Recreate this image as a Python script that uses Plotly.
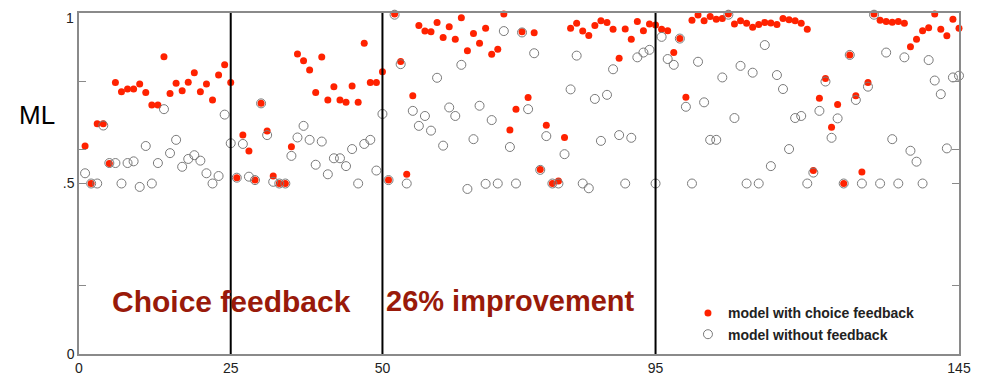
import plotly.graph_objects as go

trial = list(range(1, 146))

with_feedback = [
    0.61, 0.50, 0.675, 0.675, 0.559, 0.796, 0.769, 0.777, 0.777, 0.792,
    0.767, 0.730, 0.730, 0.872, 0.764, 0.794, 0.772, 0.797, 0.825, 0.769,
    0.792, 0.745, 0.818, 0.848, 0.796, 0.517, 0.642, 0.595, 0.51, 0.735,
    0.654, 0.522, 0.50, 0.50, 0.608, 0.88, 0.86, 0.833, 0.767, 0.871,
    0.745, 0.784, 0.745, 0.738, 0.786, 0.738, 0.911, 0.796, 0.796, 0.828,
    0.51, 0.997, 0.858, 0.527, 0.757, 0.963, 0.947, 0.945, 0.972, 0.928,
    0.96, 0.923, 0.986, 0.889, 0.94, 0.911, 0.955, 0.879, 0.894, 0.997,
    0.657, 0.718, 0.945, 0.752, 0.942, 0.541, 0.671, 0.50, 0.507, 0.635,
    0.955, 0.97, 0.947, 0.934, 0.963, 0.977, 0.972, 0.952, 0.867, 0.953,
    0.923, 0.975, 0.948, 0.968, 0.965, 0.952, 0.948, 0.884, 0.925, 0.753,
    0.979, 0.994, 0.977, 0.99, 0.982, 0.984, 0.997, 0.968, 0.977, 0.97,
    0.958, 0.966, 0.972, 0.971, 0.966, 0.984, 0.98, 0.977, 0.97, 0.952,
    0.538, 0.75, 0.808, 0.665, 0.732, 0.50, 0.877, 0.757, 0.534, 0.796,
    0.997, 0.979, 0.975, 0.973, 0.975, 0.97, 0.901, 0.923, 0.948, 0.957,
    0.997, 0.952, 0.933, 0.982, 0.955,
]

without_feedback = [
    0.53, 0.50, 0.50, 0.67, 0.56, 0.56, 0.50, 0.56, 0.565, 0.49,
    0.61, 0.50, 0.56, 0.718, 0.589, 0.628, 0.549, 0.572, 0.583, 0.567,
    0.53, 0.50, 0.522, 0.702, 0.618, 0.517, 0.616, 0.52, 0.51, 0.735,
    0.642, 0.505, 0.50, 0.50, 0.581, 0.635, 0.669, 0.628, 0.555, 0.623,
    0.527, 0.574, 0.574, 0.551, 0.601, 0.50, 0.616, 0.628, 0.538, 0.704,
    0.51, 0.995, 0.85, 0.50, 0.713, 0.669, 0.698, 0.655, 0.81, 0.611,
    0.723, 0.698, 0.848, 0.484, 0.63, 0.728, 0.499, 0.686, 0.50, 0.947,
    0.607, 0.50, 0.943, 0.718, 0.882, 0.54, 0.639, 0.50, 0.50, 0.586,
    0.776, 0.875, 0.50, 0.486, 0.748, 0.625, 0.76, 0.835, 0.642, 0.50,
    0.634, 0.87, 0.884, 0.892, 0.50, 0.93, 0.865, 0.848, 0.925, 0.725,
    0.50, 0.857, 0.738, 0.628, 0.628, 0.811, 0.995, 0.692, 0.845, 0.50,
    0.825, 0.50, 0.906, 0.551, 0.818, 0.777, 0.601, 0.692, 0.698, 0.50,
    0.532, 0.713, 0.799, 0.634, 0.691, 0.50, 0.877, 0.745, 0.50, 0.784,
    0.995, 0.50, 0.884, 0.63, 0.50, 0.87, 0.596, 0.564, 0.50, 0.862,
    0.802, 0.762, 0.603, 0.811, 0.816,
]

boundaries = [25, 50, 95]
x_ticks = [0, 25, 50, 95, 145]
y_ticks = [0, 0.2, 0.5, 0.6, 0.8, 1]
y_ticktext = ["0", "", ".5", "", "", ""]
y_top_label = "1"

FONT = "Liberation Sans, Arial, Helvetica, sans-serif"

fig = go.Figure()
fig.add_trace(go.Scatter(
    x=trial, y=with_feedback, mode="markers", name="model with choice feedback",
    marker=dict(symbol="circle", size=7, color="#ff2200", line=dict(width=0)),
    cliponaxis=False,
))
fig.add_trace(go.Scatter(
    x=trial, y=without_feedback, mode="markers", name="model without feedback",
    marker=dict(symbol="circle-open", size=9, color="#7a7a7a", line=dict(width=1)),
    cliponaxis=False,
))

for b in boundaries:
    fig.add_shape(type="line", x0=b, x1=b, y0=0, y1=1, xref="x", yref="y",
                  line=dict(color="black", width=2), layer="above")

fig.add_annotation(x=25.2, y=0.155, xref="x", yref="y", text="<b>Choice feedback</b>",
                   showarrow=False, font=dict(family=FONT, size=30, color="#991a0a"))
fig.add_annotation(x=50.2, y=0.155, xref="x", yref="y", text="<b>26% improvement</b>",
                   showarrow=False, xanchor="left",
                   font=dict(family=FONT, size=29, color="#991a0a"))
fig.add_annotation(x=-0.0477, y=0.701, xref="paper", yref="paper", text="ML",
                   showarrow=False, xanchor="center", yanchor="middle",
                   font=dict(family=FONT, size=26, color="black"))
# top "1" tick label, kept inside the page so it is not clipped
fig.add_annotation(x=-0.004, y=1, xref="paper", yref="paper", text=y_top_label,
                   showarrow=False, xanchor="right", yanchor="top", borderpad=0,
                   yshift=4, font=dict(family=FONT, size=14, color="#222"))

# page body has an 8px margin; compensate so the plot area lands where the reference has it
fig.update_layout(
    width=976, height=369,
    margin=dict(l=71, r=25, t=5, b=23, autoexpand=False),
    paper_bgcolor="white", plot_bgcolor="white",
    font=dict(family=FONT, size=14, color="#222"),
    showlegend=True,
    legend=dict(x=0.692, y=0.166, xanchor="left", yanchor="top",
                bgcolor="rgba(0,0,0,0)", tracegroupgap=0,
                font=dict(family=FONT, size=14, color="#222", weight="bold"),
                itemsizing="trace"),
    xaxis=dict(range=[0, 145], tickvals=x_ticks, showgrid=False, zeroline=False,
               showline=True, mirror=True, linecolor="#8a8a8a", linewidth=1.5,
               ticks="", automargin=False, ticklabeloverflow="allow",
               tickfont=dict(size=14, color="#222")),
    yaxis=dict(range=[0, 1], tickvals=y_ticks, ticktext=y_ticktext, showgrid=False,
               zeroline=False, showline=True, mirror="ticks", linecolor="#8a8a8a",
               linewidth=1.5, ticks="inside", ticklen=7, tickcolor="#8a8a8a",
               automargin=False, ticklabeloverflow="allow",
               tickfont=dict(size=14, color="#222")),
)

fig.write_html("out.html")
